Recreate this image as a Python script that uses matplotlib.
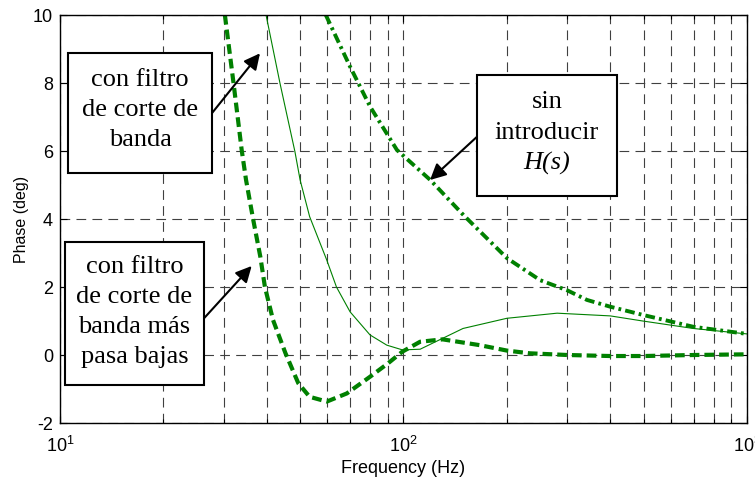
import matplotlib
matplotlib.use("Agg")
import matplotlib.pyplot as plt
from matplotlib.patches import Rectangle

plt.rcParams['lines.scale_dashes'] = False
plt.rcParams['axes.unicode_minus'] = False
plt.rcParams['font.family'] = ['Liberation Sans', 'DejaVu Sans']

# Phase responses (deg) vs frequency (Hz)
f_bs_lp = [30.2, 32.0, 33.8, 34.8, 36.5, 38.3, 39.5, 41.7, 45.3, 49.4, 53.3,
           59.8, 68.4, 79.9, 90, 99.3, 111.8, 130, 166.6, 200, 233, 300,
           400, 500, 700, 1000]
ph_bs_lp = [10, 8.0, 6.03, 5.15, 3.99, 2.89, 2.0, 1.03, 0.06, -0.83, -1.23,
            -1.37, -1.13, -0.64, -0.25, 0.1, 0.39, 0.46, 0.29, 0.13, 0.05, 0.0,
            -0.03, -0.03, 0.0, 0.02]

f_bs = [39.8, 43.7, 48.3, 50, 53.3, 59.8, 63.8, 69.9, 79.9, 89.4, 99.3,
        111.8, 149, 200, 280, 400, 497, 698, 1000]
ph_bs = [10, 7.99, 5.98, 5.15, 4.07, 2.79, 2.0, 1.27, 0.59, 0.29, 0.15,
         0.17, 0.78, 1.08, 1.23, 1.15, 1.0, 0.78, 0.62]

f_noH = [59.4, 69.9, 80, 95.7, 119.6, 150, 200, 250, 300, 342, 400, 497,
         698, 1000]
ph_noH = [10, 8.48, 7.3, 6.03, 5.15, 4.1, 2.85, 2.2, 1.9, 1.62, 1.42, 1.18,
          0.83, 0.62]

x_ticks = [10, 100, 1000]
y_ticks = [-2, 0, 2, 4, 6, 8, 10]

green = '#008000'

fig = plt.figure(figsize=(7.55, 4.83), dpi=100)
ax = fig.add_axes([60 / 755, 60 / 483, 687 / 755, 408 / 483])

ax.plot(f_bs, ph_bs, color=green, lw=0.8)
ax.plot(f_bs_lp, ph_bs_lp, color=green, lw=3.0, ls=(0, (7, 3.6)))
ax.plot(f_noH, ph_noH, color=green, lw=2.8, ls=(0, (7, 3, 2, 3)))

ax.set_xscale('log')
ax.set_xlim(10, 1000)
ax.set_ylim(-2, 10)
ax.set_xticks(x_ticks)
ax.set_yticks(y_ticks)

grid_kw = dict(color='0.25', lw=0.8, ls=(0, (7, 4.5)))
ax.grid(True, which='major', axis='both', **grid_kw)
ax.grid(True, which='minor', axis='x', **grid_kw)
ax.set_axisbelow(True)

ax.tick_params(which='both', direction='in', top=True, right=True,
               labelsize=13, width=0.8, colors='k')
ax.tick_params(which='major', length=5)
ax.tick_params(which='minor', length=3)
ax.tick_params(axis='x', which='major', pad=9)
ax.tick_params(axis='y', which='major', pad=5)
for s in ax.spines.values():
    s.set_linewidth(1.0)

ax.set_xlabel('Frequency (Hz)', fontsize=13, labelpad=3)
ax.set_ylabel('Phase (deg)', fontsize=11.5, labelpad=3)

serif = ['Liberation Serif', 'DejaVu Serif']


def box(x0, y0, x1, y1):
    ax.add_patch(Rectangle((x0, y0), x1 - x0, y1 - y0, transform=ax.transAxes,
                           facecolor='white', edgecolor='black', lw=1.5,
                           zorder=5, clip_on=False))


def lines(xc, baselines, texts, styles=None):
    for i, (yb, t) in enumerate(zip(baselines, texts)):
        st = styles[i] if styles else 'normal'
        ax.text(xc, yb, t, transform=ax.transAxes, ha='center', va='baseline',
                fontsize=19, family=serif, style=st, zorder=7)


def arrow(xy_from, xy_to):
    ax.annotate('', xy=xy_to, xycoords='axes fraction', xytext=xy_from,
                textcoords='axes fraction',
                arrowprops=dict(arrowstyle='-|>', color='black', lw=1.5,
                                mutation_scale=24, shrinkA=0, shrinkB=0),
                zorder=6)


# Band-stop filter
box(0.0121, 0.6135, 0.2217, 0.9076)
lines(0.1169, [0.8260, 0.7525, 0.6789],
      ['con filtro', 'de corte de', 'banda'])
arrow((0.2217, 0.7605), (0.2911, 0.9061))

# Band-stop plus low-pass filter
box(0.0073, 0.0931, 0.2096, 0.4444)
lines(0.1085, [0.3669, 0.2934, 0.2199, 0.1470],
      ['con filtro', 'de corte de', 'banda más', 'pasa bajas'])
arrow((0.2096, 0.2566), (0.2790, 0.3848))

# Without H(s)
box(0.6066, 0.5571, 0.8112, 0.8529)
lines(0.7089, [0.7713, 0.6953, 0.6201], ['sin', 'introducir', 'H(s)'],
      ['normal', 'normal', 'italic'])
arrow((0.6066, 0.7010), (0.5386, 0.5956))

fig.savefig('out.png', dpi=100)
